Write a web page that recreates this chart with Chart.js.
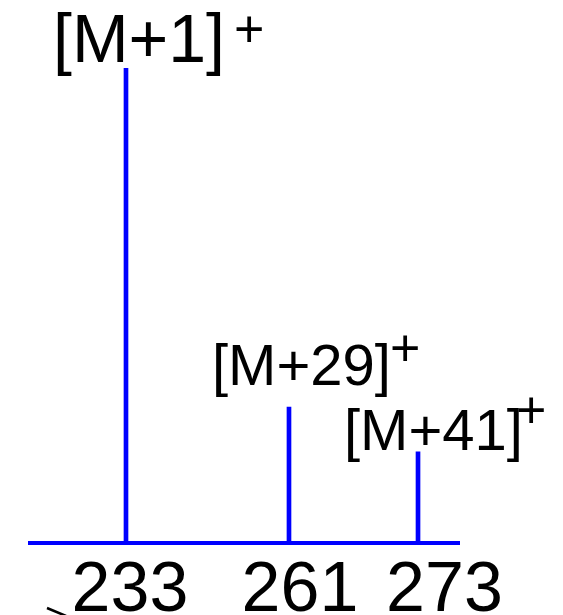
<!DOCTYPE html>
<html>
<head>
<meta charset="utf-8">
<script src="https://cdn.jsdelivr.net/npm/chart.js@4.4.1/dist/chart.umd.min.js"></script>
<style>
  html, body { margin: 0; padding: 0; background: #ffffff; }
  canvas { display: block; }
</style>
</head>
<body>
<canvas id="spectrum" width="563" height="615"></canvas>
<script>
// Peak data: m/z, relative intensity and ion assignment
const massValues  = [233, 261, 273];
const intensities = [100, 28.6, 19.2];
const ionLabels   = ['[M+1]', '[M+29]', '[M+41]'];
const ionCharges  = ['+', '+', '+'];
const tickLabels  = ['233', '261', '273'];

// Schematic (segmented) m/z axis: each stop maps an m/z value to a fraction of the axis length
const axisStops = [[225, 0], [233, 0.2235], [261, 0.603], [273, 0.9034], [279, 1]];

// Label placement relative to the top of each stick
const ionLabelLayout = [
  { dx: -73, dy: -6,  size: 68, supDx: 108,  supDy: -21,   supSize: 52 },
  { dx: -77, dy: -22, size: 58, supDx: 101,  supDy: -41,   supSize: 52 },
  { dx: -74, dy: -2,  size: 58, supDx: 98,   supDy: -23.5, supSize: 52 }
];
const tickLabelLayout = [{ dx: 4 }, { dx: 11 }, { dx: 26.5 }];
const FONT = '"Liberation Sans", Arial, Helvetica, sans-serif';

class SegmentedScale extends Chart.LinearScale {
  static id = 'segmented';
  static defaults = Chart.LinearScale.defaults;

  decimalFor(value) {
    const s = axisStops;
    if (value <= s[0][0]) return s[0][1];
    for (let i = 1; i < s.length; i++) {
      if (value <= s[i][0]) {
        const t = (value - s[i - 1][0]) / (s[i][0] - s[i - 1][0]);
        return s[i - 1][1] + t * (s[i][1] - s[i - 1][1]);
      }
    }
    return s[s.length - 1][1];
  }
  getPixelForValue(value) {
    if (value === null || value === undefined || isNaN(value)) return NaN;
    return this.getPixelForDecimal(this.decimalFor(value));
  }
  getValueForPixel(pixel) {
    const d = this.getDecimalForPixel(pixel);
    const s = axisStops;
    for (let i = 1; i < s.length; i++) {
      if (d <= s[i][1]) {
        const t = (d - s[i - 1][1]) / (s[i][1] - s[i - 1][1]);
        return s[i - 1][0] + t * (s[i][0] - s[i - 1][0]);
      }
    }
    return s[s.length - 1][0];
  }
}
Chart.register(SegmentedScale);

// Ion labels with superscript charge, and the m/z labels under the baseline
const peakLabels = {
  id: 'peakLabels',
  afterDatasetsDraw(chart) {
    const { ctx } = chart;
    const xs = chart.scales.x, ys = chart.scales.y;
    ctx.save();
    ctx.fillStyle = '#000000';
    ctx.textBaseline = 'alphabetic';
    massValues.forEach((m, i) => {
      const px = xs.getPixelForValue(m);
      const py = ys.getPixelForValue(intensities[i]);
      const L = ionLabelLayout[i];
      ctx.textAlign = 'left';
      ctx.font = L.size + 'px ' + FONT;
      ctx.fillText(ionLabels[i], px + L.dx, py + L.dy);
      ctx.font = L.supSize + 'px ' + FONT;
      ctx.fillText(ionCharges[i], px + L.supDx, py + L.supDy);

      ctx.textAlign = 'center';
      ctx.font = '70px ' + FONT;
      ctx.fillText(tickLabels[i], px + tickLabelLayout[i].dx, 611);
    });
    // small stroke at the lower-left edge
    ctx.strokeStyle = '#000000';
    ctx.lineWidth = 2.5;
    ctx.beginPath();
    ctx.moveTo(47, 608);
    ctx.lineTo(66, 616);
    ctx.stroke();
    ctx.restore();
  }
};

new Chart(document.getElementById('spectrum'), {
  type: 'bar',
  data: {
    datasets: [{
      data: massValues.map((m, i) => ({ x: m, y: intensities[i] })),
      backgroundColor: '#0000ff',
      borderWidth: 0,
      barThickness: 4
    }]
  },
  options: {
    responsive: false,
    animation: false,
    events: [],
    layout: { padding: { top: 68, left: 30, right: 103.5, bottom: 72 } },
    plugins: { legend: { display: false }, tooltip: { enabled: false } },
    scales: {
      x: {
        type: 'segmented',
        min: 225,
        max: 279,
        grid: { display: false, drawTicks: false },
        border: { display: true, color: '#0000ff', width: 4 },
        ticks: { display: false },
        afterFit: (s) => { s.height = 0; }
      },
      y: {
        display: false,
        min: 0,
        max: 100
      }
    }
  },
  plugins: [peakLabels]
});
</script>
</body>
</html>
